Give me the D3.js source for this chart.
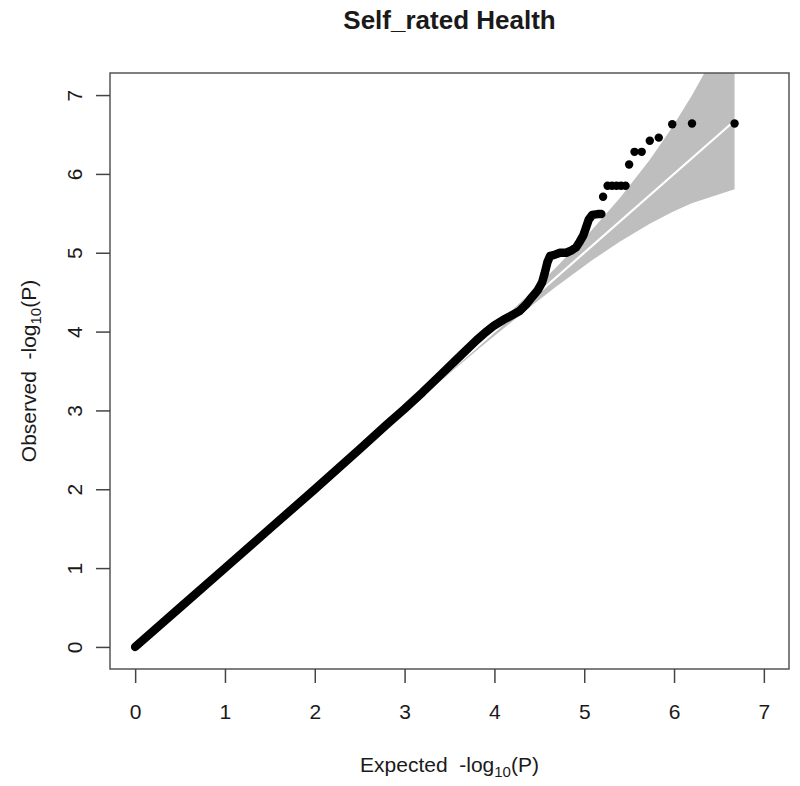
<!DOCTYPE html>
<html>
<head>
<meta charset="utf-8">
<script src="https://cdn.jsdelivr.net/npm/d3@7/dist/d3.min.js"></script>
<style>
  body { margin: 0; background: #fff; }
  svg { display: block; font-family: "Liberation Sans", Arial, Helvetica, sans-serif; }
  text { white-space: pre; }
</style>
</head>
<body>
<svg id="chart" width="800" height="786"></svg>
<script>
// ---------- data ----------
const title = "Self_rated Health";
const xTicks = [0, 1, 2, 3, 4, 5, 6, 7];
const yTicks = [0, 1, 2, 3, 4, 5, 6, 7];

// dense part of the QQ curve (expected, observed)
const denseExpected = [0, 0.5, 1, 1.5, 2, 2.5, 2.8, 3.0, 3.2, 3.4, 3.6, 3.8, 3.9, 4.0, 4.1, 4.2, 4.28, 4.35, 4.42, 4.48, 4.53, 4.56, 4.59, 4.62, 4.66, 4.73, 4.8, 4.86, 4.91, 4.95, 4.99, 5.02, 5.05, 5.09, 5.15, 5.19];
const denseObserved = [0, 0.5, 1, 1.5, 2, 2.51, 2.82, 3.02, 3.23, 3.45, 3.67, 3.89, 3.99, 4.08, 4.15, 4.21, 4.26, 4.34, 4.44, 4.52, 4.62, 4.74, 4.88, 4.96, 4.97, 5.0, 5.0, 5.03, 5.07, 5.14, 5.22, 5.32, 5.42, 5.48, 5.49, 5.49];

// sparse tail points
const tailExpected = [5.21, 5.26, 5.31, 5.36, 5.41, 5.46, 5.50, 5.56, 5.64, 5.73, 5.83, 5.98, 6.20, 6.674];
const tailObserved = [5.71, 5.85, 5.85, 5.85, 5.85, 5.85, 6.12, 6.28, 6.28, 6.42, 6.46, 6.63, 6.64, 6.64];

// 95% band (expected, lower, upper)
const bandExpected = [0, 2.373, 3.373, 3.896, 4.375, 4.678, 5.083, 5.395, 5.720, 5.975, 6.197, 6.674];
const bandLower    = [0, 2.365, 3.347, 3.848, 4.292, 4.561, 4.901, 5.141, 5.363, 5.514, 5.627, 5.806];
const bandUpper    = [0, 2.382, 3.400, 3.947, 4.462, 4.804, 5.286, 5.692, 6.163, 6.581, 6.990, 7.970];

// ---------- layout ----------
const svg = d3.select("#chart");
const pL = 110, pR = 789, pT = 73, pB = 669;
const x = d3.scaleLinear().domain([-0.28, 7.28]).range([pL, pR]);
const y = d3.scaleLinear().domain([-0.28, 7.28]).range([pB, pT]);
const textColor = "#1a1a1a";

svg.append("clipPath").attr("id", "plotclip")
  .append("rect").attr("x", pL).attr("y", pT).attr("width", pR - pL).attr("height", pB - pT);

const plot = svg.append("g").attr("clip-path", "url(#plotclip)");

// band polygon
const bandPts = bandExpected.map((e, i) => [e, bandUpper[i]])
  .concat(bandExpected.map((e, i) => [e, bandLower[i]]).reverse());
plot.append("path")
  .attr("d", d3.line().x(d => x(d[0])).y(d => y(d[1]))(bandPts) + "Z")
  .attr("fill", "#bebebe").attr("stroke", "none");

// white diagonal
const maxE = d3.max(bandExpected);
plot.append("line")
  .attr("x1", x(0)).attr("y1", y(0)).attr("x2", x(maxE)).attr("y2", y(maxE))
  .attr("stroke", "#fff").attr("stroke-width", 2.2);

// dense curve
const dense = denseExpected.map((e, i) => [e, denseObserved[i]]);
plot.append("path")
  .attr("d", d3.line().x(d => x(d[0])).y(d => y(d[1])).curve(d3.curveLinear)(dense))
  .attr("fill", "none").attr("stroke", "#000").attr("stroke-width", 8.5)
  .attr("stroke-linecap", "round").attr("stroke-linejoin", "round");

// tail points
plot.selectAll("circle.tail").data(tailExpected.map((e, i) => [e, tailObserved[i]]))
  .join("circle").attr("class", "tail")
  .attr("cx", d => x(d[0])).attr("cy", d => y(d[1])).attr("r", 4.2).attr("fill", "#000");

// frame
svg.append("rect").attr("x", pL).attr("y", pT).attr("width", pR - pL).attr("height", pB - pT)
  .attr("fill", "none").attr("stroke", "#555").attr("stroke-width", 1.5);

// x axis
const xAxis = d3.axisBottom(x).tickValues(xTicks).tickSize(14).tickFormat(d3.format("d"));
const gx = svg.append("g").attr("transform", `translate(0,${pB})`).call(xAxis);
gx.select(".domain").remove();
gx.selectAll(".tick line").attr("stroke", "#444").attr("stroke-width", 1.5);
gx.selectAll(".tick text").attr("fill", textColor).attr("font-size", 21)
  .attr("font-family", "Liberation Sans, Arial, sans-serif").attr("y", 43).attr("dy", "0.35em");

// y axis
const yAxis = d3.axisLeft(y).tickValues(yTicks).tickSize(14).tickFormat(d3.format("d"));
const gy = svg.append("g").attr("transform", `translate(${pL},0)`).call(yAxis);
gy.select(".domain").remove();
gy.selectAll(".tick line").attr("stroke", "#444").attr("stroke-width", 1.5);
gy.selectAll(".tick text").attr("fill", textColor).attr("font-size", 21)
  .attr("font-family", "Liberation Sans, Arial, sans-serif")
  .attr("x", 0).attr("y", 0).attr("dy", "0.35em")
  .attr("text-anchor", "middle")
  .attr("transform", "translate(-35,0) rotate(-90)");

// title
svg.append("text").attr("x", (pL + pR) / 2).attr("y", 29)
  .attr("text-anchor", "middle").attr("font-size", 26).attr("font-weight", "bold")
  .attr("fill", textColor).text(title);

// x label
const xl = svg.append("text").attr("x", (pL + pR) / 2).attr("y", 772)
  .attr("text-anchor", "middle").attr("font-size", 21).attr("fill", textColor);
xl.append("tspan").text("Expected\u00A0\u00A0-log");
xl.append("tspan").attr("font-size", 15).attr("dy", 5).text("10");
xl.append("tspan").attr("dy", -5).text("(P)");

// y label
const yl = svg.append("text")
  .attr("transform", `translate(36,${(pT + pB) / 2}) rotate(-90)`)
  .attr("text-anchor", "middle").attr("font-size", 21).attr("fill", textColor);
yl.append("tspan").text("Observed\u00A0\u00A0-log");
yl.append("tspan").attr("font-size", 15).attr("dy", 5).text("10");
yl.append("tspan").attr("dy", -5).text("(P)");
</script>
</body>
</html>
